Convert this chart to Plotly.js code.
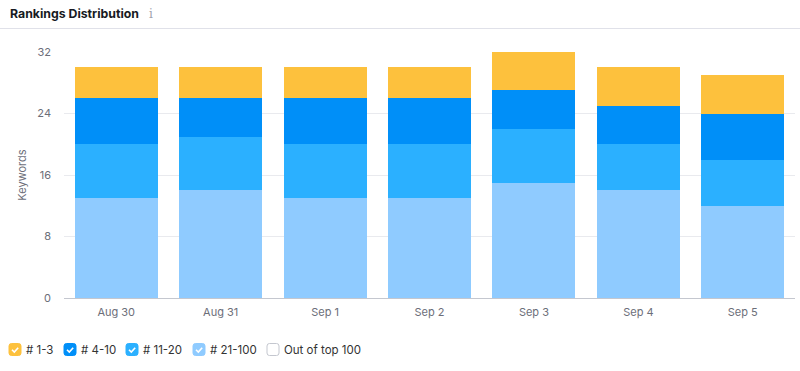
<!DOCTYPE html>
<html>
<head>
<meta charset="utf-8">
<script src="https://cdn.plot.ly/plotly-3.0.1.min.js"></script>
<style>
html,body{margin:0;padding:0;background:#fff;}
#chart{width:800px;height:371px;}
</style>
</head>
<body>
<div id="chart"></div>
<script>
// ---- data ----
const dates = ['Aug 30', 'Aug 31', 'Sep 1', 'Sep 2', 'Sep 3', 'Sep 4', 'Sep 5'];
const top1to3 = [4, 4, 4, 4, 5, 5, 5];
const top4to10 = [6, 5, 6, 6, 5, 5, 6];
const top11to20 = [7, 7, 7, 7, 7, 6, 6];
const top21to100 = [13, 14, 13, 13, 15, 14, 12];
const outOfTop100 = [0, 0, 0, 0, 0, 0, 0];
const seriesNames = ['# 1-3', '# 4-10', '# 11-20', '# 21-100', 'Out of top 100'];
const yTicks = [0, 8, 16, 24, 32];

// ---- styles ----
const colors = ['#fdc13d', '#008ff8', '#2bb0ff', '#8fcbff', '#ffffff'];
const W = 800, H = 371;
const M = {l: 64, r: 5, t: 52, b: 73};
const PW = W - M.l - M.r, PH = H - M.t - M.b;
const px = v => (v - M.l) / PW;
const py = v => (H - M.b - v) / PH;

const seriesValues = [top1to3, top4to10, top11to20, top21to100];
const traces = [];
// stack from bottom: 21-100, 11-20, 4-10, 1-3
for (let i = 3; i >= 0; i--) {
  traces.push({
    type: 'bar',
    x: dates,
    y: seriesValues[i],
    name: seriesNames[i],
    marker: {color: colors[i], line: {width: 0}},
    hoverinfo: 'skip',
    showlegend: false
  });
}
traces.push({
  type: 'bar', x: dates, y: outOfTop100, name: seriesNames[4],
  marker: {color: '#e0e1e9'}, hoverinfo: 'skip', showlegend: false
});

const shapes = [];
const annotations = [];

// divider under title
shapes.push({type: 'line', xref: 'paper', yref: 'paper',
  x0: px(0), x1: px(800), y0: py(28.5), y1: py(28.5),
  line: {color: '#e0e1e9', width: 1}});

// title info icon
annotations.push({xref: 'paper', yref: 'paper', x: px(150.5), y: py(14),
  xanchor: 'center', yanchor: 'middle', showarrow: false, text: 'i',
  font: {family: 'DejaVu Serif, serif', size: 12, color: '#a0a3ad'}});

// legend
const legendBoxX = [9, 64, 126, 193, 267];
const legendTop = 343.5, box = 12, rad = 2.5;
function roundRect(x, y, w, h, r) {
  const pts = [
    ['M', x + r, y], ['L', x + w - r, y], ['Q', x + w, y, x + w, y + r],
    ['L', x + w, y + h - r], ['Q', x + w, y + h, x + w - r, y + h],
    ['L', x + r, y + h], ['Q', x, y + h, x, y + h - r],
    ['L', x, y + r], ['Q', x, y, x + r, y]
  ];
  return pts.map(p => {
    const c = p[0];
    const nums = p.slice(1);
    const out = [];
    for (let k = 0; k < nums.length; k += 2) out.push(px(nums[k]) + ',' + py(nums[k + 1]));
    return c + out.join(' ');
  }).join(' ') + ' Z';
}
seriesNames.forEach((name, i) => {
  const bx = legendBoxX[i];
  const checked = i < 4;
  shapes.push({type: 'path', xref: 'paper', yref: 'paper',
    path: roundRect(bx, legendTop, box, box, rad),
    fillcolor: checked ? colors[i] : '#ffffff',
    line: {color: checked ? colors[i] : '#c4c7cf', width: 1}});
  if (checked) {
    const cx = [bx + 3, bx + 5.3, bx + 9.2];
    const cy = [legendTop + 6.3, legendTop + 8.6, legendTop + 4.2];
    shapes.push({type: 'path', xref: 'paper', yref: 'paper',
      path: 'M' + px(cx[0]) + ',' + py(cy[0]) + ' L' + px(cx[1]) + ',' + py(cy[1]) + ' L' + px(cx[2]) + ',' + py(cy[2]),
      line: {color: '#ffffff', width: 1.6}});
  }
  annotations.push({xref: 'paper', yref: 'paper', x: px(bx + box + 3), y: py(legendTop + box / 2),
    xanchor: 'left', yanchor: 'middle', showarrow: false, text: name,
    font: {family: 'Inter, sans-serif', size: 11.5, color: '#333333'}});
});

const layout = {
  width: W, height: H,
  margin: M,
  paper_bgcolor: '#ffffff', plot_bgcolor: '#ffffff',
  barmode: 'stack',
  bargap: 0.205,
  font: {family: 'Inter, sans-serif', color: '#6c6e79', size: 11},
  title: {text: '<b>Rankings Distribution</b>', xref: 'container', yref: 'container',
    x: 10 / W, xanchor: 'left', y: 1 - 14 / H, yanchor: 'middle',
    font: {family: 'Inter, sans-serif', size: 12.3, color: '#171a22'}},
  xaxis: {type: 'category', showgrid: false, showline: true, linecolor: '#c4c7cf', linewidth: 1,
    ticks: '', ticklabelstandoff: 4, tickfont: {size: 11, color: '#6c6e79'}, fixedrange: true, zeroline: false},
  yaxis: {range: [0, 32], tickvals: yTicks, ticktext: yTicks.map(String),
    showgrid: true, gridcolor: '#e9eaee', gridwidth: 1, zeroline: false, showline: false,
    ticks: '', ticklabelstandoff: 12, tickfont: {size: 11, color: '#6c6e79'},
    title: {text: 'Keywords', font: {size: 11, color: '#6c6e79'}, standoff: 8},
    fixedrange: true},
  shapes: shapes,
  annotations: annotations
};

Plotly.newPlot('chart', traces, layout, {displayModeBar: false, staticPlot: true});
</script>
</body>
</html>
